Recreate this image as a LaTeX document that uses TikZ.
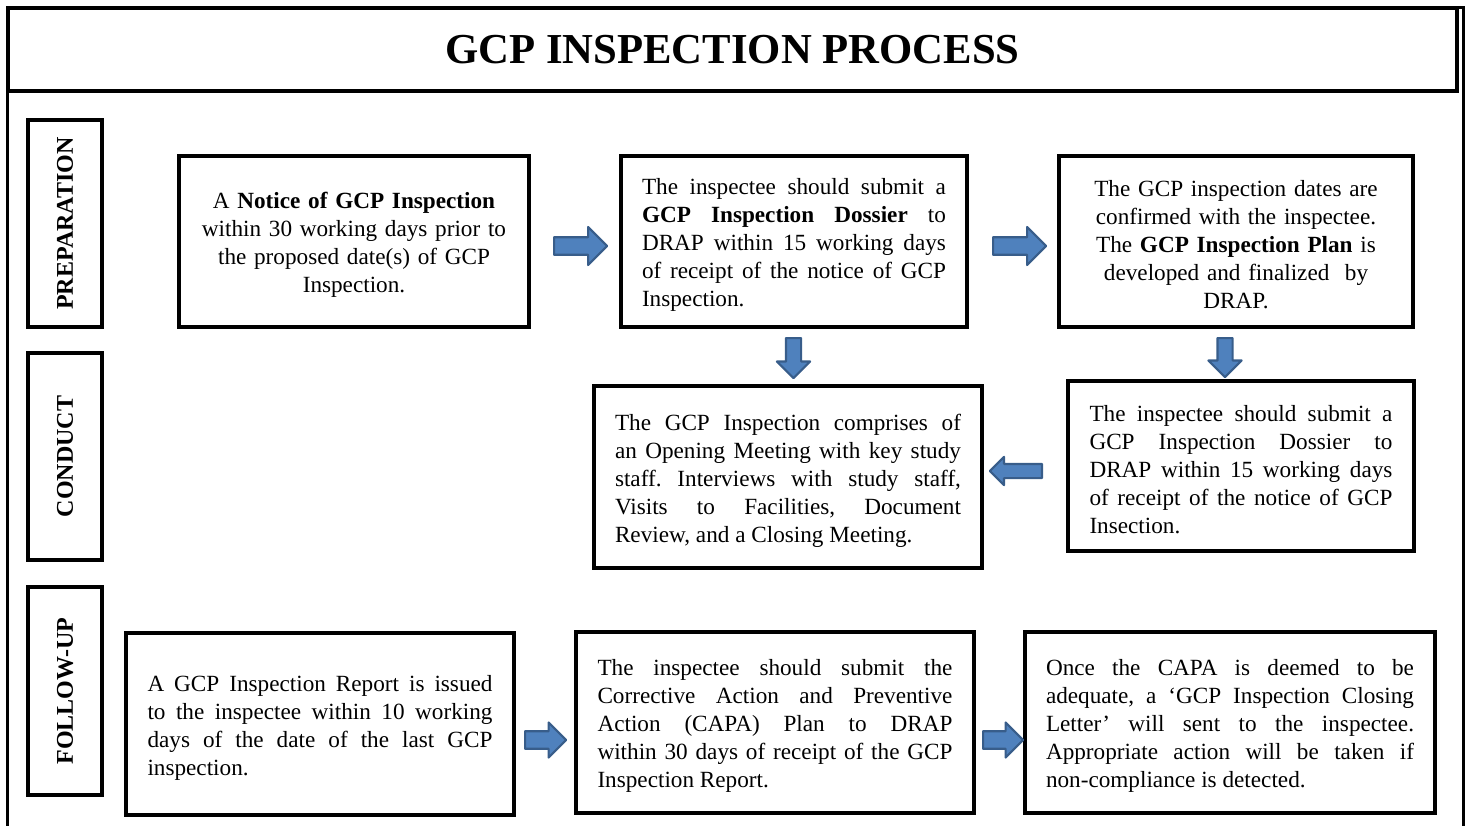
\documentclass[tikz,border=0pt]{standalone}
\usepackage{fontspec}
\setmainfont{Liberation Serif}
\usetikzlibrary{shapes.arrows,calc}
\definecolor{arrfill}{HTML}{4F81BD}
\definecolor{arrdraw}{HTML}{385D8A}
\newcommand\mytxtend{\endgraf\vspace*{-7pt}}
\frenchspacing
\begin{document}
\begin{tikzpicture}[x=1pt,y=-1pt,
  box/.style={draw, line width=4.5pt, inner sep=0pt, align=justify, font=\fontsize{23.2}{28}\selectfont\frenchspacing, execute at end node=\mytxtend},
  cbox/.style={box, align=center},
  side/.style={draw, line width=4.5pt, inner sep=0pt, minimum width=74pt, minimum height=207pt},
  sidetext/.style={rotate=90, font=\fontsize{24}{28}\selectfont\bfseries},
  barrow/.style={single arrow, fill=arrfill, draw=arrdraw, line width=2.2pt, line join=round, inner sep=7.5pt, anchor=tail},
  harrow/.style={barrow, minimum width=38pt, single arrow head extend=10pt},
  varrow/.style={barrow, shape border rotate=270, minimum width=33pt, single arrow head extend=9pt, inner sep=6.5pt}
]
\useasboundingbox (0,0) rectangle (1473,825);
% outer frame
\draw[line width=3.5pt] (7.5,840) -- (7.5,7.5) -- (1463.5,7.5) -- (1463.5,840);
\node[draw, line width=4.5pt, minimum width=1449pt, minimum height=83pt, inner sep=0pt, font=\fontsize{42.7}{46}\selectfont\bfseries] (title) at (732.5,49.5) {GCP INSPECTION PROCESS};
% side labels
\node[side] (prep) at (65,223.5) {};
\node[sidetext] at (prep.center) {PREPARATION};
\node[side] (cond) at (65,456.5) {};
\node[sidetext] at (cond.center) {CONDUCT};
\node[side, minimum height=208pt] (foll) at (65,691) {};
\node[sidetext] at (foll.center) {FOLLOW-UP};
% boxes
\node[cbox, minimum width=350pt, minimum height=171pt, text width=330pt] (b1) at (354,241.5)
 {A \textbf{Notice of GCP Inspection}\\ within 30 working days prior to\\ the proposed date(s) of GCP\\ Inspection.};
\node[box, minimum width=346pt, minimum height=171pt, text width=304pt] (b2) at (794,241.5)
 {The inspectee should submit a\linebreak \textbf{GCP Inspection Dossier} to\linebreak DRAP within 15 working days\linebreak of receipt of the notice of GCP\linebreak Inspection.};
\node[cbox, minimum width=354pt, minimum height=171pt, text width=330pt] (b3) at (1236,241.5)
 {The GCP inspection dates are\\ confirmed with the inspectee.\\ The \textbf{GCP Inspection Plan} is\\ developed and finalized\ \ by\\ DRAP.};
\node[box, minimum width=388pt, minimum height=182pt, text width=346pt] (b4) at (788,477)
 {The GCP Inspection comprises of\linebreak an Opening Meeting with key study\linebreak staff. Interviews with study staff,\linebreak Visits to Facilities, Document\linebreak Review, and a Closing Meeting.};
\node[box, minimum width=346pt, minimum height=170pt, text width=303pt] (b5) at (1241,466)
 {The inspectee should submit a\linebreak GCP Inspection Dossier to\linebreak DRAP within 15 working days\linebreak of receipt of the notice of GCP\linebreak Insection.};
\node[box, minimum width=388pt, minimum height=182pt, text width=345pt] (b6) at (320,724)
 {A GCP Inspection Report is issued\linebreak to the inspectee within 10 working\linebreak days of the date of the last GCP\linebreak inspection.};
\node[box, minimum width=398pt, minimum height=181pt, text width=355pt] (b7) at (775,722.5)
 {The inspectee should submit the\linebreak Corrective Action and Preventive\linebreak Action (CAPA) Plan to DRAP\linebreak within 30 days of receipt of the GCP\linebreak Inspection Report.};
\node[box, minimum width=410pt, minimum height=181pt, text width=368pt] (b8) at (1230,722.5)
 {Once the CAPA is deemed to be\linebreak adequate, a ‘GCP Inspection Closing\linebreak Letter’ will sent to the inspectee.\linebreak Appropriate action will be taken if\linebreak non-compliance is detected.};
% block arrows
\node[harrow, minimum height=53pt] (a12) at (553,246) {};
\node[harrow, minimum height=53pt] (a23) at (992,246) {};
\node[varrow, minimum height=40pt] (a25) at (793.5,337) {};
\node[varrow, minimum height=39pt] (a35) at (1225,337) {};
\node[barrow, shape border rotate=180, minimum height=52pt, minimum width=28pt, single arrow head extend=7pt, inner sep=6pt] (a54) at (1043,471) {};
\node[harrow, minimum height=41pt, minimum width=35pt, single arrow head extend=8.5pt] (a67) at (524,740) {};
\node[harrow, minimum height=40pt, minimum width=35pt, single arrow head extend=8.5pt] (a78) at (982,740) {};
\end{tikzpicture}
\end{document}
